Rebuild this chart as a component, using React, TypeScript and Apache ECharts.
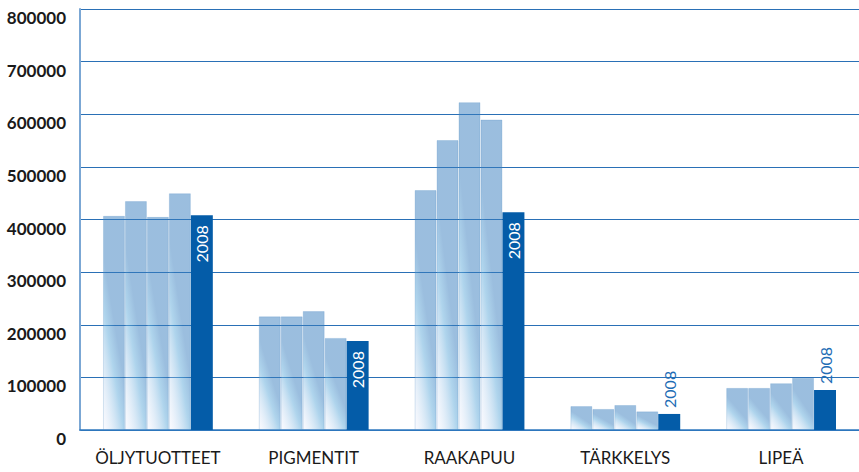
import React, { useEffect, useRef } from "react";
import * as echarts from "echarts";

const categories = ["ÖLJYTUOTTEET", "PIGMENTIT", "RAAKAPUU", "TÄRKKELYS", "LIPEÄ"];
const yearNames = ["2004", "2005", "2006", "2007", "2008"];
const v2004 = [407000, 216000, 456000, 45500, 80000];
const v2005 = [435000, 216000, 551000, 40000, 80000];
const v2006 = [405000, 226000, 623000, 47500, 89000];
const v2007 = [450000, 175000, 590000, 35500, 99500];
const v2008 = [408000, 169000, 414000, 30500, 76000];
const yTicks = { min: 0, max: 800000, interval: 100000 };

const FONT = "Lato, 'Open Sans', sans-serif";

export default function App() {
  const ref = useRef<HTMLDivElement>(null);
  useEffect(() => {
    if (!ref.current) return;
    const chart = echarts.init(ref.current, undefined, { renderer: "svg" });
    const lightFill = new echarts.graphic.LinearGradient(0, 1, 0.6, 0, [
      { offset: 0, color: "rgba(228,230,250,0.2)" },
      { offset: 0.42, color: "rgba(95,170,218,0.5)" },
      { offset: 0.6, color: "rgba(55,125,190,0.5)" },
      { offset: 1, color: "rgba(55,125,190,0.5)" },
    ]);
    const light = [v2004, v2005, v2006, v2007].map((arr, i) => ({
      name: yearNames[i],
      type: "bar",
      data: arr,
      barGap: "0%",
      barCategoryGap: "29.5%",
      itemStyle: {
        color: lightFill,
        borderColor: "rgba(70,130,190,0.22)",
        borderWidth: 1,
      },
      emphasis: { disabled: true },
    }));
    const dark = {
      name: yearNames[4],
      type: "bar",
      barGap: "0%",
      barCategoryGap: "29.5%",
      itemStyle: { color: "#045ca8" },
      emphasis: { disabled: true },
      data: v2008.map((v) => {
        const inside = v >= 100000;
        return {
          value: v,
          label: inside
            ? {
                show: true,
                formatter: yearNames[4],
                position: "insideTop",
                distance: 10,
                rotate: 90,
                align: "right",
                verticalAlign: "middle",
                color: "#ffffff",
                fontSize: 16,
                fontFamily: FONT,
              }
            : {
                show: true,
                formatter: yearNames[4],
                position: "top",
                distance: 6,
                rotate: 90,
                align: "left",
                verticalAlign: "middle",
                color: "#1f6db5",
                fontSize: 16,
                fontFamily: FONT,
              },
        };
      }),
    };
    chart.setOption({
      animation: false,
      grid: { left: 80, top: 9, width: 780, height: 421, containLabel: false },
      xAxis: {
        type: "category",
        data: categories,
        axisTick: { show: false },
        axisLine: { show: true, lineStyle: { color: "#2f78bf", width: 1.5 } },
        axisLabel: {
          interval: 0,
          color: "#1a1a1a",
          fontSize: 17,
          fontFamily: FONT,
          margin: 19,
        },
      },
      yAxis: {
        type: "value",
        min: yTicks.min,
        max: yTicks.max,
        interval: yTicks.interval,
        axisLine: { show: true, lineStyle: { color: "#7ba7d4", width: 2 } },
        axisTick: { show: false },
        splitLine: { show: true, lineStyle: { color: "#2a70b6", width: 1.2 } },
        axisLabel: {
          formatter: (v: number) => String(v),
          color: "#1a1a1a",
          fontSize: 17,
          fontWeight: "bold",
          fontFamily: FONT,
          margin: 14,
          verticalAlign: "top",
        },
      },
      series: [...light, dark],
    });
    return () => chart.dispose();
  }, []);
  return <div ref={ref} style={{ width: 859, height: 472, position: "absolute", left: 0, top: 0 }} />;
}
